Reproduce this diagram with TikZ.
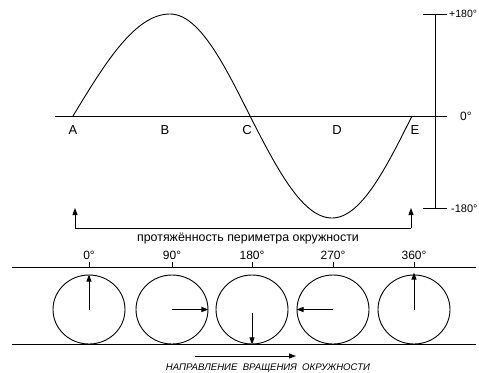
\documentclass[tikz,border=0pt]{standalone}
\usepackage{fontspec}
\setmainfont{Liberation Sans}
\usetikzlibrary{arrows.meta, positioning, shapes.geometric}
\tikzset{
  thinln/.style ={line width=0.9pt, color=black},
  wheel/.style  ={ellipse, draw=black, line width=0.9pt, minimum width=72pt, minimum height=69pt, inner sep=0pt},
  parr/.style   ={-{Triangle[length=7pt, width=5pt]}, line width=0.9pt, color=black},
  lbl/.style    ={font=\fontsize{12}{14}\selectfont, inner sep=1pt},
  capl/.style   ={font=\itshape\fontsize{9.6}{12}\selectfont, inner sep=1pt},
}
\begin{document}
\begin{tikzpicture}[x=1pt, y=-1pt]
  \useasboundingbox (0,0) rectangle (479,372);
  % ось и синусоида
  \coordinate (axl) at (55,116);
  \coordinate (axr) at (447,116);
  \draw[thinln] (axl) -- (axr);
  \coordinate (vtop) at (435,14);
  \coordinate (vbot) at (435,208);
  \draw[thinln] (vtop) -- (vbot);
  \draw[thinln] (423,14) -- (447,14);
  \draw[thinln] (423,208) -- (447,208);
  \node[lbl, font=\fontsize{10.5}{12}\selectfont, anchor=west] (ptop) at (448,14) {+180°};
  \node[lbl, anchor=west] (pzero) at (459,116) {0°};
  \node[lbl, font=\fontsize{11}{13}\selectfont, anchor=west] (pbot) at (450,209) {-180°};
  \draw[thinln, smooth]
    plot[domain=0:90, samples=30] ({73+97*\x/90}, {116-102*sin(\x)})
    -- plot[domain=90:180, samples=30] ({170+80*(\x-90)/90}, {116-102*sin(\x)})
    -- plot[domain=180:270, samples=30] ({250+82*(\x-180)/90}, {116-102*sin(\x)})
    -- plot[domain=270:360, samples=30] ({332+80*(\x-270)/90}, {116-102*sin(\x)});
  \foreach \nm/\px in {A/73,B/165,C/247,D/337,E/415}
    \node[lbl, font=\fontsize{13}{15}\selectfont] (pt\nm) at (\px,130) {\nm};
  % скобка
  \coordinate (brl) at (75,228);
  \coordinate (brr) at (411,228);
  \coordinate (brlt) at (75,208);
  \coordinate (brrt) at (411,208);
  \draw[thinln] (brl) -- (brr);
  \draw[parr] (brl) -- (brlt);
  \draw[parr] (brr) -- (brrt);
  \node[lbl, font=\fontsize{12.4}{14}\selectfont] (perim) at (248,239) {протяжённость периметра окружности};
  % полоса с окружностями
  \coordinate (ltop) at (12,267);
  \coordinate (rtop) at (476,267);
  \coordinate (lbot) at (12,344);
  \coordinate (rbot) at (476,344);
  \draw[thinln] (ltop) -- (rtop);
  \draw[thinln] (lbot) -- (rbot);
  \foreach \i/\px/\ang in {1/89/0,2/172/90,3/252/180,4/333/270,5/414/360} {
    \node[wheel] (w\i) at (\px,309.5) {};
    \node[lbl] (ang\i) at (\px,255) {\ang°};
    \draw[thinln] (\px,262) -- (\px,267);
  }
  \draw[parr] (w1.center) -- (w1.north);
  \draw[parr] (w2.center) -- (w2.east);
  \draw[parr] ([yshift=-3pt]w3.center) -- (w3.south);
  \draw[parr] (w4.center) -- (w4.west);
  \draw[parr] (w5.center) -- ([yshift=2pt]w5.north);
  % направление
  \coordinate (dirl) at (195,356);
  \coordinate (dirr) at (296,356);
  \draw[parr] (dirl) -- (dirr);
  \node[capl] (dirtxt) at (268,368) {НАПРАВЛЕНИЕ\ \ ВРАЩЕНИЯ\ \ ОКРУЖНОСТИ};
\end{tikzpicture}
\end{document}
